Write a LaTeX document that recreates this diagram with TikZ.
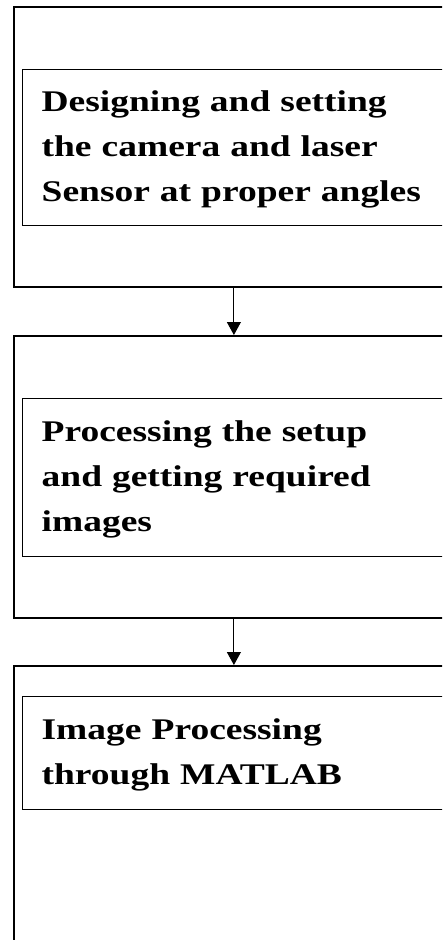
\documentclass[tikz,border=0pt]{standalone}
\usepackage{fontspec}
\setmainfont{Liberation Serif}[FakeStretch=1.25]
\usetikzlibrary{positioning, arrows.meta}

\begin{document}
\begin{tikzpicture}[
    x=1pt, y=-1pt,
    stage/.style={draw, rectangle, line width=1.8pt, anchor=north west, minimum width=440pt, inner sep=0pt},
    task/.style={draw, rectangle, line width=1.3pt, anchor=north west, inner xsep=19pt, inner ysep=0pt,
        text width=402pt, align=left, font=\fontsize{30}{45}\selectfont\bfseries,
        execute at begin node=\strut, execute at end node=\strut},
    arr/.style={-{Triangle[length=13pt, width=14pt]}, line width=1pt}
]
    \useasboundingbox (0,0) rectangle (442,940);
    \clip (0,0) rectangle (442,940);

    \node[stage, minimum height=280pt] (setup) at (13,6) {};
    \node[stage, minimum height=282pt] (capture) at (13,335) {};
    \node[stage, minimum height=300pt] (matlab) at (13,665) {};

    \node[task, minimum height=156pt] (design) at (22,69) {Designing and setting\\the camera and laser\\Sensor at proper angles};
    \node[task, minimum height=158pt] (process) at (22,398) {Processing the setup\\and getting required\\images};
    \node[task, minimum height=113pt] (imgproc) at (22,696) {Image Processing\\through MATLAB};

    \draw[arr] (setup) -- (capture);
    \draw[arr] (capture) -- (matlab);
\end{tikzpicture}
\end{document}
